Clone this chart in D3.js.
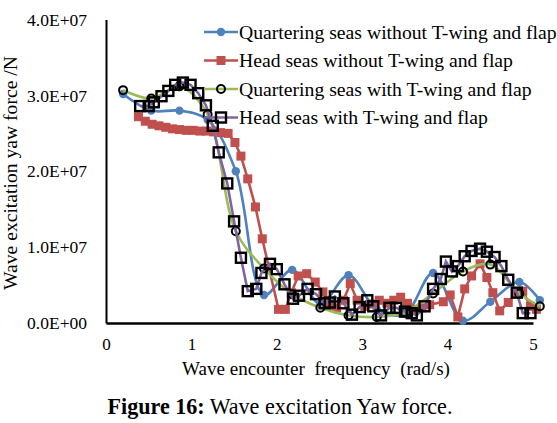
<!DOCTYPE html>
<html><head><meta charset="utf-8">
<script src="https://cdn.jsdelivr.net/npm/d3@7"></script>
<style>
html,body{margin:0;padding:0;background:#fff;overflow:hidden;}
svg text{font-family:"Liberation Serif","Times New Roman",Times,"DejaVu Serif",serif !important;}
</style></head>
<body><svg id="c" width="557" height="423"></svg>
<script>
// ---- data (values in N) ----
const xTicks = [0, 1, 2, 3, 4, 5];
const yTicks = [0, 1e7, 2e7, 3e7, 4e7];
const seriesNames = [
  "Quartering seas without T-wing and flap",
  "Head seas without T-wing and flap",
  "Quartering seas with T-wing and flap",
  "Head seas with T-wing and flap"
];
const quarterFreq = [0.2, 0.53, 0.86, 1.19, 1.52, 1.85, 2.18, 2.51, 2.84, 3.17, 3.5, 3.83, 4.18, 4.5, 4.84, 5.08];
const quarterWithout = [3.02e7, 2.80e7, 2.80e7, 2.68e7, 2.00e7, 0.37e7, 0.70e7, 0.25e7, 0.63e7, 0.18e7, 0.12e7, 0.66e7, 0.03e7, 0.28e7, 0.54e7, 0.30e7];
const quarterWith = [3.07e7, 2.96e7, 3.12e7, 2.75e7, 1.21e7, 0.72e7, 0.38e7, 0.20e7, 0.10e7, 0.08e7, 0.14e7, 0.39e7, 0.68e7, 0.77e7, 0.39e7, 0.22e7];
const headFreqWithout = [0.38, 0.46, 0.54, 0.62, 0.70, 0.78, 0.86, 0.94, 1.02, 1.10, 1.18, 1.26, 1.34, 1.43, 1.51, 1.58, 1.66, 1.75, 1.83, 2.02, 2.10, 2.17, 2.25, 2.35, 2.45, 2.54, 2.62, 2.70, 2.78, 2.86, 2.94, 3.03, 3.12, 3.20, 3.29, 3.37, 3.45, 3.53, 3.62, 3.70, 3.79, 3.95, 4.03, 4.12, 4.20, 4.28, 4.38, 4.46, 4.53, 4.61, 4.71, 4.80, 4.88, 4.97, 5.04];
const headWithout = [2.72e7, 2.66e7, 2.62e7, 2.60e7, 2.58e7, 2.56e7, 2.55e7, 2.54e7, 2.54e7, 2.53e7, 2.53e7, 2.52e7, 2.51e7, 2.50e7, 2.38e7, 2.20e7, 1.90e7, 1.53e7, 1.11e7, 0.18e7, 0.18e7, 0.40e7, 0.62e7, 0.65e7, 0.54e7, 0.41e7, 0.22e7, 0.20e7, 0.30e7, 0.52e7, 0.30e7, 0.22e7, 0.25e7, 0.30e7, 0.26e7, 0.30e7, 0.34e7, 0.26e7, 0.18e7, 0.20e7, 0.24e7, 0.28e7, 0.37e7, 0.08e7, 0.45e7, 0.62e7, 0.78e7, 0.60e7, 0.40e7, 0.16e7, 0.27e7, 0.40e7, 0.42e7, 0.22e7, 0.18e7];
const headFreqWith = [0.40, 0.50, 0.56, 0.65, 0.73, 0.81, 0.90, 0.99, 1.08, 1.17, 1.25, 1.32, 1.42, 1.50, 1.58, 1.66, 1.76, 1.82, 1.92, 2.00, 2.09, 2.19, 2.26, 2.36, 2.46, 2.56, 2.62, 2.68, 2.78, 2.88, 2.97, 3.06, 3.13, 3.22, 3.32, 3.40, 3.50, 3.58, 3.64, 3.73, 3.83, 3.92, 3.98, 4.05, 4.12, 4.20, 4.28, 4.38, 4.46, 4.55, 4.63, 4.71, 4.81, 4.88, 4.97];
const headWith = [2.86e7, 2.86e7, 2.91e7, 2.99e7, 3.06e7, 3.14e7, 3.17e7, 3.14e7, 3.03e7, 2.87e7, 2.60e7, 2.25e7, 1.84e7, 1.34e7, 0.86e7, 0.42e7, 0.45e7, 0.66e7, 0.78e7, 0.71e7, 0.51e7, 0.32e7, 0.36e7, 0.45e7, 0.38e7, 0.26e7, 0.27e7, 0.35e7, 0.26e7, 0.11e7, 0.21e7, 0.30e7, 0.22e7, 0.10e7, 0.20e7, 0.20e7, 0.15e7, 0.13e7, 0.10e7, 0.22e7, 0.45e7, 0.58e7, 0.81e7, 0.68e7, 0.75e7, 0.88e7, 0.95e7, 0.98e7, 0.94e7, 0.87e7, 0.75e7, 0.57e7, 0.40e7, 0.13e7, 0.13e7];
const colors = ["#4F81BD", "#C0504D", "#9BBB59", "#8064A2"];

// ---- chart ----
const FONT = '"Liberation Serif","Times New Roman",Times,"DejaVu Serif",serif';
const svg = d3.select("#c");
const x = d3.scaleLinear().domain([0, 5]).range([106, 533]);
const y = d3.scaleLinear().domain([0, 4e7]).range([323, 19.6]);

const fmtY = d => d === 0 ? "0.0E+00" : (d / 1e7).toFixed(1) + "E+07";

const gx = svg.append("g").attr("transform", `translate(0,${y(0)})`)
  .call(d3.axisBottom(x).tickValues(xTicks).tickSize(0).tickPadding(15).tickFormat(d3.format("d")));
gx.attr("font-family", FONT).attr("font-size", 17);
gx.select(".domain").attr("stroke", "#000").attr("stroke-width", 2.5);
gx.selectAll("text").attr("fill", "#000");

const gy = svg.append("g").attr("transform", `translate(${x(0)},0)`)
  .call(d3.axisLeft(y).tickValues(yTicks).tickSize(0).tickPadding(19).tickFormat(fmtY));
gy.attr("font-family", FONT).attr("font-size", 17.5);
gy.select(".domain").attr("stroke", "#000").attr("stroke-width", 2);
gy.selectAll("text").attr("fill", "#000");

const mk = (fx, fy) => fx.map((f, i) => [f, fy[i]]);
const data = [
  mk(quarterFreq, quarterWithout),
  mk(headFreqWithout, headWithout),
  mk(quarterFreq, quarterWith),
  mk(headFreqWith, headWith)
];
const curves = [d3.curveCatmullRom.alpha(0.5), d3.curveLinear, d3.curveCatmullRom.alpha(0.5), d3.curveLinear];

function drawMarker(g, k, px, py) {
  if (k === 0) g.append("circle").attr("cx", px).attr("cy", py).attr("r", 4.2).attr("fill", colors[0]);
  else if (k === 1) g.append("rect").attr("x", px - 4.5).attr("y", py - 4.5).attr("width", 9).attr("height", 9).attr("fill", colors[1]);
  else if (k === 2) g.append("circle").attr("cx", px).attr("cy", py).attr("r", 4).attr("fill", "none").attr("stroke", "#000").attr("stroke-width", 2);
  else g.append("rect").attr("x", px - 5).attr("y", py - 5).attr("width", 10).attr("height", 10).attr("fill", "none").attr("stroke", "#000").attr("stroke-width", 2.4);
}

data.forEach((d, k) => {
  const g = svg.append("g");
  const line = d3.line().x(p => x(p[0])).y(p => y(p[1])).curve(curves[k]);
  g.append("path").attr("d", line(d)).attr("fill", "none").attr("stroke", colors[k]).attr("stroke-width", 2.6);
  d.forEach(p => drawMarker(g, k, x(p[0]), y(p[1])));
});

// legend
const lg = svg.append("g").attr("font-family", FONT);
seriesNames.forEach((n, k) => {
  const ly = 32 + k * 28.5;
  lg.append("line").attr("x1", 204).attr("x2", 238).attr("y1", ly).attr("y2", ly).attr("stroke", colors[k]).attr("stroke-width", 2.6);
  drawMarker(lg, k, 221, ly);
  lg.append("text").attr("x", 239).attr("y", ly).attr("dy", "0.33em").attr("font-size", 19.7).attr("fill", "#000").text(n);
});

// fit a text to a target length by scaling its font size
function fit(sel, size, target) {
  sel.attr("font-size", size);
  const l = sel.node().getComputedTextLength();
  if (l > 0) sel.attr("font-size", size * target / l);
}

// axis titles
const xt = svg.append("text").attr("x", 316).attr("y", 375).attr("text-anchor", "middle")
  .attr("font-family", FONT).style("white-space", "pre").text("Wave encounter  frequency  (rad/s)");
fit(xt, 18, 268);
const yt = svg.append("text").attr("transform", "translate(17,173) rotate(-90)").attr("text-anchor", "middle")
  .attr("font-family", FONT).text("Wave excitation yaw force /N");
fit(yt, 17, 234);

// caption
const cap = svg.append("text").attr("x", 280).attr("y", 414).attr("text-anchor", "middle").attr("font-family", FONT);
cap.append("tspan").attr("font-weight", "bold").text("Figure 16:");
cap.append("tspan").text(" Wave excitation Yaw force.");
fit(cap, 22, 345);
</script></body></html>
